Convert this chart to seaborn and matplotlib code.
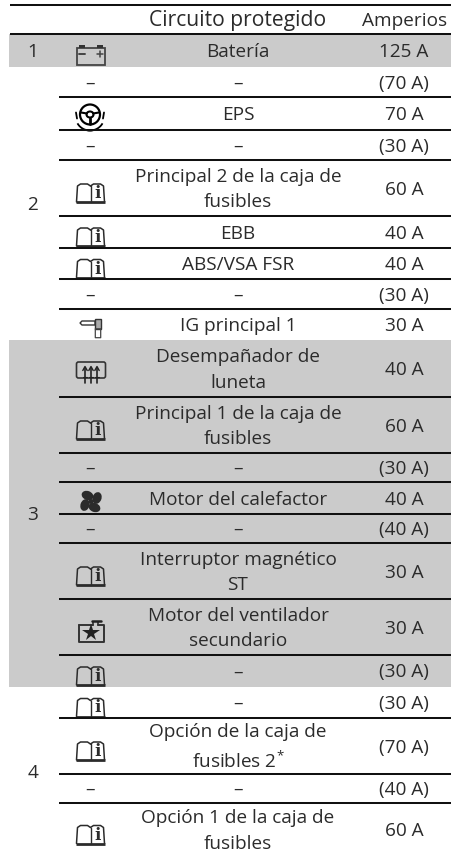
#!/usr/bin/env python3

"""
Fuse table (Circuito protegido / Amperios) drawn on one pixel sized axes.
Grey group bands come from a seaborn heatmap, the rest is text and small icons.
"""

#Import#
import numpy as np
import matplotlib
matplotlib.use("Agg")
import matplotlib.pyplot as plt
from matplotlib.colors import ListedColormap
from matplotlib.patches import Arc, Ellipse, FancyBboxPatch, Polygon, Rectangle
import seaborn as sns


#Data#
headers = ["Circuito protegido", "Amperios"]
group_names = ["1", "2", "3", "4"]
group_rows = [1, 8, 8, 4]
icons = ["battery", "-", "wheel", "-", "book", "book", "book", "-", "key",
         "defrost", "book", "-", "fan", "-", "book", "radiator", "book",
         "book", "book", "-", "book"]
circuits = ["Batería", "–", "EPS", "–", "Principal 2 de la caja de\nfusibles",
            "EBB", "ABS/VSA FSR", "–", "IG principal 1",
            "Desempañador de\nluneta", "Principal 1 de la caja de\nfusibles",
            "–", "Motor del calefactor", "–", "Interruptor magnético\nST",
            "Motor del ventilador\nsecundario", "–",
            "–", "Opción de la caja de\nfusibles 2$^{*}$", "–",
            "Opción 1 de la caja de\nfusibles"]
amps = ["125 A", "(70 A)", "70 A", "(30 A)", "60 A", "40 A", "40 A", "(30 A)",
        "30 A", "40 A", "60 A", "(30 A)", "40 A", "(40 A)", "30 A", "30 A",
        "(30 A)", "(30 A)", "(70 A)", "(40 A)", "60 A"]


#Layout, in pixels#
W, H = 451, 856
HEADER_H = 34
ROW_H = [33, 30, 33, 30, 56, 32, 31, 30, 31, 57, 56, 29, 32, 29, 56, 56, 32,
         31, 56, 29, 53]
GREY = "#cbcbcb"
INK = "#2b2b2b"
FONT = 13.7
LEFT = 9
ICON_X = 91
TEXT_X = 238
AMP_X = 404
TEXT_DY = 1.5


#Plot#
sns.set_theme(style="white")
plt.rcParams["font.family"] = ["Open Sans", "DejaVu Sans"]
plt.rcParams["mathtext.default"] = "regular"
fig = plt.figure(figsize=(W / 100, H / 100), dpi=100)
ax = fig.add_axes([0, 0, 1, 1])

# band matrix: one cell per pixel, groups 1 and 3 are grey
row_shade = np.repeat([(i + 1) % 2 for i in range(len(group_rows))], group_rows)
shade = np.concatenate([np.zeros(HEADER_H), np.repeat(row_shade, ROW_H)])
shade = np.tile(shade.reshape(-1, 1), (1, W))
shade[:, :LEFT] = 0
sns.heatmap(shade, cmap=ListedColormap(["white", GREY]), vmin=0, vmax=1,
            cbar=False, xticklabels=False, yticklabels=False, ax=ax)
ax.set_xlim(0, W)
ax.set_ylim(H, 0)


def icon_book(cy):
    x = ICON_X - 0.5
    cy = cy + 4
    ax.plot([x - 14, x - 13, x - 10, x - 3, x], [cy + 9, cy - 7, cy - 9, cy - 9, cy - 7], color=INK, lw=1.1)
    ax.plot([x - 14.5, x + 14.5], [cy + 9, cy + 9], color=INK, lw=2, solid_capstyle="butt")
    ax.plot([x, x + 3, x + 10, x + 13, x + 14], [cy - 7, cy - 9, cy - 9, cy - 7, cy + 9], color=INK, lw=1.1)
    ax.plot([x, x], [cy - 7, cy + 9], color=INK, lw=1.0)
    ax.text(x + 7.5, cy + 0.5, "i", family="DejaVu Serif", weight="bold", fontsize=12,
            ha="center", va="center", color=INK)


def icon_battery(cy):
    cy = cy + 1.5
    ax.add_patch(Rectangle((76.5, cy - 5.5), 28.5, 17, fill=False, ec="#444444", lw=1.3))
    ax.add_patch(Rectangle((79, cy - 8.5), 6, 3, color="#333333", lw=0))
    ax.add_patch(Rectangle((97, cy - 8.5), 6, 3, color="#333333", lw=0))
    ax.plot([79, 85], [cy + 1, cy + 1], color="#444444", lw=1.4)
    ax.plot([97, 103], [cy + 1, cy + 1], color="#444444", lw=1.1)
    ax.plot([100, 100], [cy - 2, cy + 4], color="#444444", lw=1.1)


def icon_wheel(cy):
    cx = 90
    ax.add_patch(Ellipse((cx, cy), 20, 20, fill=False, ec="black", lw=1.6))
    ax.add_patch(Ellipse((cx, cy), 7, 6, fill=False, ec="black", lw=1.5))
    ax.plot([cx - 9, cx - 3], [cy - 2, cy - 1], color="black", lw=1.5)
    ax.plot([cx + 9, cx + 3], [cy - 2, cy - 1], color="black", lw=1.5)
    ax.plot([cx, cx], [cy + 3, cy + 9], color="black", lw=2)
    ax.add_patch(Arc((cx, cy + 3), 28, 26, theta1=25, theta2=110, ec="black", lw=1.3))
    ax.add_patch(Arc((cx, cy + 3), 28, 26, theta1=70, theta2=155, ec="black", lw=1.3))
    ax.plot([cx - 14, cx - 13], [cy - 2, cy + 4], color="black", lw=1.3)
    ax.plot([cx + 14, cx + 13], [cy - 2, cy + 4], color="black", lw=1.3)


def icon_key(cy):
    ax.add_patch(Polygon([[80, cy - 2.5], [82, cy - 4.5], [95, cy - 4.5], [95, cy - 0.5], [82, cy - 0.5]],
                         fill=False, ec="#333333", lw=1.0))
    ax.add_patch(Rectangle((95, cy - 6.5), 6, 10, fc="#aaaaaa", ec="#333333", lw=1.0))
    ax.add_patch(FancyBboxPatch((95.5, cy + 3.5), 5, 8.5, boxstyle="round,pad=0.2", fill=False, ec="#444444", lw=0.9))


def icon_defrost(cy):
    ax.add_patch(FancyBboxPatch((77, cy - 7), 28, 15, boxstyle="round,pad=0.5,rounding_size=2",
                                fill=False, ec="#333333", lw=1.2))
    for x in [85, 91, 97]:
        ax.plot([x, x], [cy - 2, cy + 13], color="#222222", lw=1.2)
        ax.plot([x - 2.2, x, x + 2.2], [cy + 1, cy - 3, cy + 1], color="#222222", lw=1.0)
        ax.plot([x - 2.2, x + 2.2], [cy + 7, cy + 7], color="#222222", lw=0.8)


def icon_fan(cy):
    cx = 91
    cy = cy + 2.5
    for ang, dx, dy in [(20, -3.5, -6), (110, 6, -3.5), (20, 3.5, 6), (110, -6, 3.5)]:
        ax.add_patch(Ellipse((cx + dx, cy + dy), 12, 9, angle=ang, color="#2b2b2b", lw=0))
    ax.add_patch(Ellipse((cx, cy), 5, 5, color="#2b2b2b", lw=0))


def icon_radiator(cy):
    cy = cy + 4.5
    ax.plot([78.5, 78.5, 103.5, 103.5, 98], [cy - 8, cy + 9, cy + 9, cy - 8, cy - 8], color="#333333", lw=1.4)
    ax.plot([78.5, 93], [cy - 8, cy - 8], color="#333333", lw=1.4)
    ax.plot([93, 93], [cy - 8, cy - 11], color="#333333", lw=1.2)
    ax.plot([98, 98], [cy - 8, cy - 11], color="#333333", lw=1.2)
    ax.plot([92, 100.5], [cy - 12, cy - 12], color="#222222", lw=1.8)
    ax.plot([90.5], [cy + 0.5], marker="*", ms=13, color="#222222", mew=0)


ICON_FUNCS = {"book": icon_book, "battery": icon_battery, "wheel": icon_wheel,
              "key": icon_key, "defrost": icon_defrost, "fan": icon_fan,
              "radiator": icon_radiator}

# header
RULE = dict(color="#111111", lw=1.45)
ax.hlines([5, HEADER_H], 10, W, **RULE)
ax.text(TEXT_X, 20.5, headers[0], ha="center", va="center", fontsize=15.2, color=INK)
ax.text(AMP_X + 1, 20.5, headers[1], ha="center", va="center", fontsize=FONT, color=INK)

# rows
edges = HEADER_H + np.cumsum([0] + ROW_H)
group_end = np.cumsum(group_rows)
for i, (icon, circuit, amp) in enumerate(zip(icons, circuits, amps)):
    cy = (edges[i] + edges[i + 1]) / 2
    if icon == "-":
        ax.text(ICON_X - 1, cy + TEXT_DY, "–", ha="center", va="center", fontsize=FONT, color=INK)
    else:
        ICON_FUNCS[icon](cy + 1)
    ax.text(TEXT_X, cy + TEXT_DY, circuit, ha="center", va="center", fontsize=FONT, color=INK,
            linespacing=1.55, multialignment="center")
    ax.text(AMP_X, cy + TEXT_DY, amp, ha="center", va="center", fontsize=FONT, color=INK)
    if i + 1 not in group_end:
        ax.hlines(edges[i + 1], 59, W, **RULE)

# group numbers
first = 0
for name, last in zip(group_names, group_end):
    ax.text(33, (edges[first] + edges[last]) / 2 + TEXT_DY, name, ha="center", va="center",
            fontsize=FONT, color=INK)
    first = last

fig.savefig("out.png", dpi=100)
plt.close(fig)
